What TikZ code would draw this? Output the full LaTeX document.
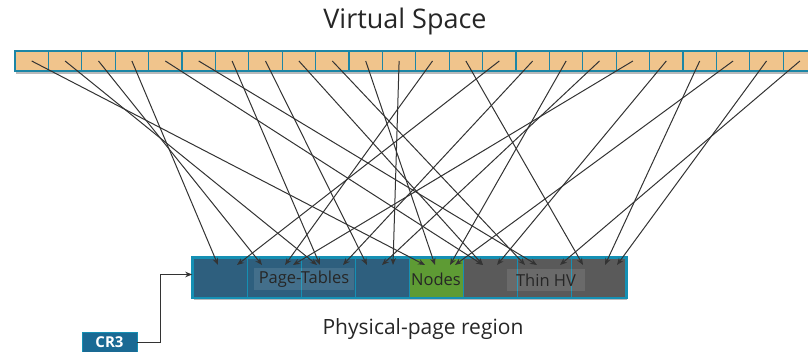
\documentclass[tikz,border=0pt]{standalone}
\usepackage{fontspec}
\setmainfont{Open Sans}
\usetikzlibrary{arrows.meta,positioning,shadows,calc}
\definecolor{vfill}{HTML}{F0C48C}
\definecolor{vedge}{HTML}{1C86A6}
\definecolor{pblue}{HTML}{2E5F7E}
\definecolor{pgreen}{HTML}{5E9B34}
\definecolor{pgrey}{HTML}{5A5A5A}
\definecolor{pedge}{HTML}{1590B4}
\definecolor{crblue}{HTML}{1A6A94}

\begin{document}
\begin{tikzpicture}[x=1pt, y=-1pt,
  vcell/.style={rectangle, draw=vedge, line width=1.1pt, fill=vfill,
                minimum width=33.4pt, minimum height=20pt, inner sep=0pt},
  pcell/.style={rectangle, draw=pedge, line width=0.9pt,
                minimum width=54.1pt, minimum height=39pt, inner sep=0pt},
  lab/.style={rectangle, fill=white, fill opacity=0.1, text opacity=1,
              text=black!85, font=\fontsize{16.5}{18}\selectfont,
              minimum height=22pt, inner sep=2pt},
  link/.style={-{Stealth[length=7pt,width=5.5pt]}, line width=1pt, black!80},
  shade/.style={drop shadow={shadow xshift=0.5pt, shadow yshift=-3pt,
                opacity=0.45, fill=black!60}}
]
\useasboundingbox (0,0) rectangle (808,352);

\node[font=\fontsize{27}{30}\selectfont, black!85] (vtitle) at (405,21) {Virtual Space};
\node[font=\fontsize{21}{24}\selectfont, black!85] (ptitle) at (423,329) {Physical-page region};

% virtual pages
\node[shade, fill=vfill, minimum width=801.6pt, minimum height=20pt, inner sep=0pt] (vbar) at (415.8,61) {};
\foreach \k in {0,...,23}
  \node[vcell] (v\k) at (31.7+33.4*\k,61) {};

% physical region
\node[shade, draw=pedge, line width=1.6pt, fill=pblue, minimum width=433pt,
      minimum height=39pt, inner sep=0pt] (phys) at (409.5,277.5) {};
\foreach \c [count=\k from 0] in {pblue,pblue,pblue,pblue,pgreen,pgrey,pgrey,pgrey}
  \node[pcell, fill=\c] (p\k) at (220.1+54.1*\k,277.5) {};
\draw[pedge, line width=1.6pt] (phys.north west) rectangle (phys.south east);

\node[lab, minimum width=100pt] (ptab) at (304,279) {Page-Tables};
\node[font=\fontsize{16.5}{18}\selectfont, text=black!85] (nodes) at (436,279) {Nodes};
\node[lab, minimum width=78pt] (thin) at (546,280) {Thin HV};

% arrow tips
\foreach \n/\x in {a/218,b/237,c/262,d/285,e/293,f/317,g/320,h/343,i/367,j/382,
                   k/393,l/425,m/435,n/450,o/455,p/483,q/497,r/525,s/537,t/560,
                   u/583,v/605,w/617}
  \coordinate (t\n) at (\x,265);

\foreach \i/\n in {0/l,1/f,2/c,3/a,4/p,5/s,6/g,7/i,8/p,9/r,10/m,11/k,12/d,13/u,
                   14/b,15/h,16/n,17/j,18/e,19/q,20/v,21/o,22/w,23/t}
  \draw[link] (v\i.center) -- (t\n);

% CR3
\node[rectangle, fill=crblue, draw=pedge, line width=0.8pt, text=white,
      font=\bfseries\fontsize{15}{17}\selectfont, minimum width=55pt,
      minimum height=20pt, inner sep=0pt] (cr3) at (109.5,342.5) {CR3};
\draw[link] (cr3.east) -- ++(23,0) |- ([yshift=3pt]phys.west);
\end{tikzpicture}
\end{document}
